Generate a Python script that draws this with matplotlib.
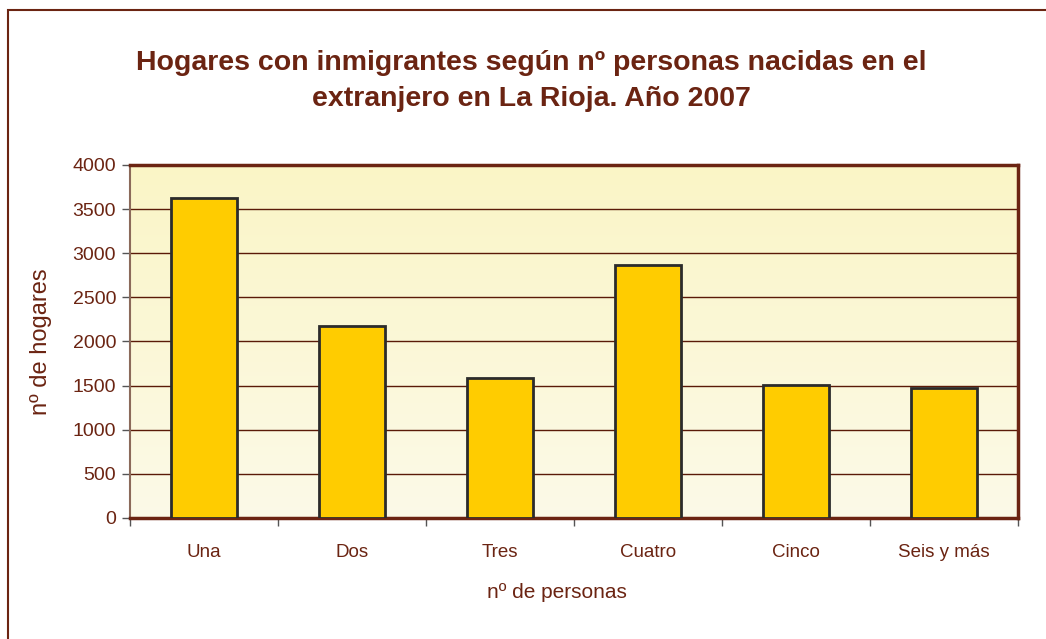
import numpy as np
import matplotlib
matplotlib.use("Agg")
import matplotlib.pyplot as plt
from matplotlib.patches import Rectangle

categorias = ["Una", "Dos", "Tres", "Cuatro", "Cinco", "Seis y más"]
hogares = [3625, 2180, 1585, 2865, 1505, 1470]
y_ticks = [0, 500, 1000, 1500, 2000, 2500, 3000, 3500, 4000]

BROWN = "#6B2412"
GRID = "#5A1A08"

plt.rcParams["font.family"] = ["Liberation Sans", "DejaVu Sans"]

fig = plt.figure(figsize=(10.46, 6.39), dpi=100)
fig.patch.set_facecolor("white")

# outer frame of the chart
fig.patches.append(Rectangle((8 / 1046, -0.1), 1.2, 0.1 + (639 - 10) / 639,
                             transform=fig.transFigure, fill=False,
                             edgecolor=BROWN, linewidth=1.5))

ax = fig.add_axes([130 / 1046, (639 - 518) / 639, 888 / 1046, 353 / 639])

# soft vertical gradient in plot area
grad = np.linspace(0, 1, 256).reshape(-1, 1)
cmap = matplotlib.colors.LinearSegmentedColormap.from_list("bg", ["#FCFAE8", "#FAF5C6"])
ax.imshow(grad, extent=[0, 1, 0, 1], transform=ax.transAxes, origin="lower",
          cmap=cmap, aspect="auto", zorder=0)

x = np.arange(len(categorias))
ax.bar(x, hogares, width=0.45, color="#FFCC00", edgecolor="#2B2B2B",
       linewidth=2, zorder=3)

ax.set_xlim(-0.5, len(categorias) - 0.5)
ax.set_ylim(0, 4000)
ax.set_yticks(y_ticks)
ax.set_yticklabels([str(v) for v in y_ticks], fontsize=14, color=BROWN)
ax.yaxis.grid(True, color=GRID, linewidth=1, zorder=1)
ax.set_axisbelow(True)

ax.set_xticks(x)
ax.set_xticklabels(categorias, fontsize=13.5, color=BROWN)
ax.tick_params(axis="x", length=0, pad=19)
ax.set_xticks(np.arange(-0.5, len(categorias)), minor=True)
ax.tick_params(axis="x", which="minor", length=6, color="#555555", width=1)
ax.tick_params(axis="y", length=6, color="#555555", width=1, pad=4)

for side in ["top", "right", "bottom"]:
    ax.spines[side].set_color(BROWN)
    ax.spines[side].set_linewidth(2.5)
ax.spines["left"].set_color("#8B6A5A")
ax.spines["left"].set_linewidth(1.5)

ax.set_ylabel("nº de hogares", fontsize=17, color=BROWN)
ax.yaxis.set_label_coords(-0.088, 0.5)
ax.set_xlabel("nº de personas", fontsize=15, color=BROWN)
ax.xaxis.set_label_coords(0.481, -0.185)

fig.text(531 / 1046, 1 - 81 / 639,
         "Hogares con inmigrantes según nº personas nacidas en el\nextranjero en La Rioja. Año 2007",
         ha="center", va="center", fontsize=20.5, fontweight="bold",
         color=BROWN, linespacing=1.5)

fig.savefig("out.png", dpi=100)
